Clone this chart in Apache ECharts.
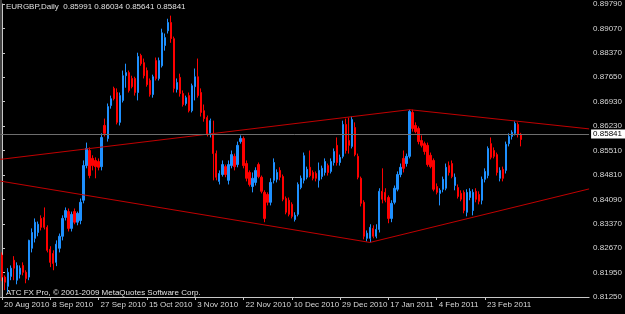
<!DOCTYPE html>
<html>
<head>
<meta charset="utf-8">
<script src="https://cdn.jsdelivr.net/npm/echarts@6/dist/echarts.min.js"></script>
<style>
html,body{margin:0;padding:0;background:#000;}
#c{width:625px;height:314px;}
</style>
</head>
<body>
<div id="c"></div>
<script>
// ---- data ----
var symbolTitle = 'EURGBP,Daily  0.85991 0.86034 0.85641 0.85841';
var copyrightText = 'ATC FX Pro, \u00a9 2001-2009 MetaQuotes Software Corp.';
var firstDate = [2010, 7, 20];          // 20 Aug 2010, daily bars incl. Sunday
var emptySlots = 22;                    // chart shift on the right
var yTickLabels = ['0.81250','0.81950','0.82670','0.83370','0.84090','0.84810','0.85510','0.86230','0.86930','0.87650','0.88370','0.89070','0.89790'];
var yMin = 0.8125, yMax = 0.8979;

var barOpen = [0.8247,0.8183,0.8156,0.8185,0.8232,0.8174,0.8191,0.8217,0.8197,0.8183,
0.8267,0.8296,0.8313,0.8354,0.8357,0.8328,0.8264,0.8252,0.8226,0.8267,
0.8302,0.8357,0.8374,0.8325,0.8374,0.8343,0.8348,0.8407,0.8508,0.8552,
0.8529,0.8523,0.8520,0.8505,0.8625,0.8587,0.8683,0.8733,0.8721,0.8634,
0.8698,0.8770,0.8779,0.8762,0.8762,0.8721,0.8829,0.8808,0.8785,0.8756,
0.8715,0.8814,0.8762,0.8799,0.8858,0.8901,0.8925,0.8878,0.8730,0.8765,
0.8718,0.8689,0.8712,0.8668,0.8738,0.8767,0.8721,0.8668,0.8648,0.8599,
0.8602,0.8543,0.8462,0.8482,0.8505,0.8465,0.8508,0.8535,0.8511,0.8578,
0.8587,0.8514,0.8488,0.8447,0.8459,0.8511,0.8474,0.8430,0.8424,0.8401,
0.8465,0.8468,0.8494,0.8476,0.8412,0.8407,0.8395,0.8351,0.8366,0.8444,
0.8465,0.8474,0.8503,0.8488,0.8485,0.8465,0.8476,0.8488,0.8508,0.8491,
0.8517,0.8567,0.8517,0.8535,0.8628,0.8581,0.8564,0.8619,0.8535,0.8471,
0.8401,0.8296,0.8296,0.8325,0.8302,0.8322,0.8433,0.8430,0.8415,0.8354,
0.8401,0.8439,0.8482,0.8529,0.8514,0.8535,0.8663,0.8625,0.8616,0.8581,
0.8572,0.8567,0.8538,0.8523,0.8447,0.8427,0.8439,0.8442,0.8508,0.8514,
0.8450,0.8444,0.8427,0.8430,0.8372,0.8415,0.8377,0.8433,0.8424,0.8407,
0.8468,0.8479,0.8572,0.8552,0.8540,0.8471,0.8497,0.8494,0.8572,0.8593,
0.8602,0.8628,0.85991];
var barHigh = [0.8255,0.8188,0.8209,0.8217,0.8244,0.8226,0.8217,0.8226,0.8203,0.8292,
0.8325,0.8354,0.8345,0.8363,0.8386,0.8334,0.8273,0.8261,0.8290,0.8310,
0.8363,0.8386,0.8383,0.8374,0.8383,0.8374,0.8412,0.8523,0.8575,0.8561,
0.8538,0.8532,0.8529,0.8602,0.8645,0.8689,0.8712,0.8738,0.8733,0.8721,
0.8785,0.8805,0.8785,0.8770,0.8767,0.8837,0.8834,0.8820,0.8794,0.8762,
0.8773,0.8823,0.8823,0.8907,0.8893,0.8936,0.8945,0.8884,0.8762,0.8776,
0.8727,0.8712,0.8721,0.8747,0.8791,0.8820,0.8733,0.8686,0.8654,0.8645,
0.8639,0.8552,0.8494,0.8523,0.8511,0.8523,0.8552,0.8543,0.8578,0.8596,
0.8593,0.8523,0.8494,0.8488,0.8503,0.8517,0.8479,0.8436,0.8430,0.8471,
0.8529,0.8497,0.8503,0.8482,0.8418,0.8415,0.8401,0.8372,0.8459,0.8479,
0.8546,0.8505,0.8552,0.8494,0.8491,0.8517,0.8508,0.8529,0.8514,0.8529,
0.8558,0.8590,0.8540,0.8639,0.8645,0.8648,0.8651,0.8634,0.8543,0.8476,
0.8407,0.8319,0.8337,0.8334,0.8337,0.8442,0.8500,0.8442,0.8421,0.8407,
0.8450,0.8491,0.8514,0.8552,0.8543,0.8671,0.8671,0.8634,0.8622,0.8596,
0.8578,0.8575,0.8546,0.8529,0.8456,0.8442,0.8476,0.8514,0.8520,0.8523,
0.8485,0.8453,0.8436,0.8436,0.8439,0.8442,0.8439,0.8442,0.8433,0.8476,
0.8500,0.8564,0.8590,0.8561,0.8546,0.8503,0.8505,0.8578,0.8602,0.8611,
0.8637,0.8634,0.86034];
var barLow = [0.8171,0.8145,0.8139,0.8174,0.8174,0.8162,0.8179,0.8188,0.8165,0.8174,
0.8255,0.8284,0.8302,0.8319,0.8322,0.8255,0.8212,0.8203,0.8215,0.8255,
0.8290,0.8348,0.8316,0.8316,0.8337,0.8334,0.8337,0.8398,0.8500,0.8471,
0.8494,0.8471,0.8494,0.8494,0.8593,0.8578,0.8674,0.8698,0.8628,0.8625,
0.8692,0.8735,0.8721,0.8733,0.8712,0.8698,0.8799,0.8762,0.8738,0.8709,
0.8706,0.8756,0.8756,0.8794,0.8843,0.8893,0.8866,0.8721,0.8721,0.8709,
0.8680,0.8683,0.8663,0.8663,0.8698,0.8706,0.8651,0.8636,0.8593,0.8590,
0.8465,0.8465,0.8453,0.8476,0.8474,0.8453,0.8500,0.8494,0.8503,0.8572,
0.8500,0.8462,0.8447,0.8430,0.8450,0.8471,0.8427,0.8343,0.8392,0.8392,
0.8456,0.8459,0.8465,0.8404,0.8366,0.8360,0.8354,0.8345,0.8360,0.8439,
0.8456,0.8468,0.8474,0.8465,0.8462,0.8444,0.8468,0.8479,0.8479,0.8485,
0.8508,0.8508,0.8508,0.8529,0.8543,0.8543,0.8558,0.8535,0.8468,0.8389,
0.8293,0.8287,0.8284,0.8296,0.8296,0.8313,0.8398,0.8401,0.8340,0.8343,
0.8395,0.8433,0.8474,0.8488,0.8505,0.8529,0.8607,0.8602,0.8570,0.8561,
0.8540,0.8505,0.8500,0.8433,0.8424,0.8392,0.8430,0.8436,0.8479,0.8471,
0.8436,0.8412,0.8404,0.8369,0.8360,0.8407,0.8363,0.8401,0.8395,0.8395,
0.8459,0.8471,0.8526,0.8529,0.8479,0.8462,0.8462,0.8485,0.8564,0.8584,
0.8596,0.8590,0.85641];
var barClose = [0.8183,0.8168,0.8197,0.8209,0.8209,0.8217,0.8209,0.8197,0.8179,0.8290,
0.8313,0.8343,0.8337,0.8328,0.8328,0.8261,0.8226,0.8223,0.8279,0.8302,
0.8354,0.8377,0.8325,0.8366,0.8343,0.8369,0.8401,0.8508,0.8558,0.8479,
0.8508,0.8505,0.8503,0.8590,0.8602,0.8680,0.8703,0.8703,0.8634,0.8712,
0.8770,0.8779,0.8727,0.8738,0.8721,0.8826,0.8805,0.8770,0.8744,0.8715,
0.8767,0.8762,0.8814,0.8895,0.8881,0.8925,0.8878,0.8733,0.8750,0.8718,
0.8686,0.8706,0.8668,0.8741,0.8767,0.8712,0.8663,0.8645,0.8599,0.8639,
0.8543,0.8474,0.8485,0.8511,0.8482,0.8511,0.8540,0.8505,0.8567,0.8587,
0.8508,0.8471,0.8453,0.8471,0.8494,0.8476,0.8433,0.8354,0.8401,0.8459,
0.8517,0.8488,0.8474,0.8410,0.8372,0.8366,0.8360,0.8363,0.8453,0.8471,
0.8537,0.8497,0.8479,0.8471,0.8471,0.8494,0.8500,0.8520,0.8488,0.8520,
0.8549,0.8517,0.8532,0.8628,0.8552,0.8567,0.8642,0.8540,0.8474,0.8398,
0.8302,0.8311,0.8328,0.8302,0.8322,0.8433,0.8410,0.8407,0.8354,0.8398,
0.8442,0.8482,0.8503,0.8500,0.8535,0.8666,0.8616,0.8607,0.8578,0.8567,
0.8549,0.8511,0.8505,0.8439,0.8430,0.8436,0.8468,0.8503,0.8488,0.8476,
0.8474,0.8418,0.8410,0.8377,0.8430,0.8433,0.8430,0.8410,0.8404,0.8468,
0.8491,0.8558,0.8532,0.8535,0.8488,0.8494,0.8471,0.8570,0.8593,0.8605,
0.8631,0.8599,0.85841];

// trendlines as [bar position, price] anchors
var upperTrend = [[-0.66, 0.8526], [135, 0.8671], [194.5, 0.8615]];
var lowerTrend = [[-0.66, 0.8463], [121.9, 0.8284], [194.5, 0.8440]];

// ---- build ----
var monthNames = ['Jan','Feb','Mar','Apr','May','Jun','Jul','Aug','Sep','Oct','Nov','Dec'];
var categories = [];
var d = new Date(firstDate[0], firstDate[1], firstDate[2]);
for (var i = 0; i < barClose.length; i++) {
  categories.push(d.getDate() + ' ' + monthNames[d.getMonth()] + ' ' + d.getFullYear());
  d.setDate(d.getDate() + 1);
  if (d.getDay() === 6) d.setDate(d.getDate() + 1); // no Saturday bars
}
for (var k = 0; k < emptySlots; k++) categories.push('');
var candles = barClose.map(function (c, i) { return [barOpen[i], c, barLow[i], barHigh[i]]; });
var lastClose = barClose[barClose.length - 1];
var yStep = (yMax - yMin) / (yTickLabels.length - 1);
var yTicks = yTickLabels.map(function (_, i) { return yMin + i * yStep; });

var FONT = "'Liberation Sans Narrow','Liberation Sans',Arial,sans-serif";
var AX = '#c8c8c8';
var chart = echarts.init(document.getElementById('c'), null, {renderer: 'canvas'});
var showIdx = function (idx, val) { return idx % 16 === 0 && val !== ''; };
chart.setOption({
  backgroundColor: '#000',
  animation: false,
  grid: {left: 0.5, right: 31.7, top: 3.3, bottom: 17, containLabel: false},
  xAxis: [{
    type: 'category', data: categories, boundaryGap: true,
    axisLine: {lineStyle: {color: AX, width: 1}},
    axisTick: {show: true, interval: showIdx, alignWithLabel: true, length: 3, lineStyle: {color: AX}},
    axisLabel: {interval: showIdx, align: 'left', padding: [0,0,0,2], margin: 4, color: '#d8d8d8', fontFamily: FONT, fontSize: 8},
    splitLine: {show: false}
  }, {
    type: 'value', min: -0.5, max: categories.length - 0.5, show: false
  }],
  yAxis: {
    type: 'value', position: 'right', min: yMin, max: yMax, scale: true,
    axisLine: {show: true, lineStyle: {color: AX, width: 1}},
    axisTick: {show: true, length: 3, customValues: yTicks, lineStyle: {color: AX}},
    axisLabel: {customValues: yTicks, margin: 4, color: '#d8d8d8', fontFamily: FONT, fontSize: 8,
      formatter: function (v) { return yTickLabels[Math.round((v - yMin) / yStep)]; }},
    splitLine: {show: false}
  },
  series: [{
    type: 'candlestick', data: candles, barWidth: 1.8,
    itemStyle: {color: '#1e90ff', color0: '#ff0000', borderColor: '#1e90ff', borderColor0: '#ff0000', borderWidth: 1},
    markLine: {
      silent: true, symbol: ['none', 'none'],
      lineStyle: {color: '#6e6e6e', width: 1, type: 'solid'},
      label: {show: true, position: 'end', distance: 2, formatter: lastClose.toFixed(5),
        backgroundColor: '#ffffff', color: '#000', fontFamily: FONT, fontSize: 8, padding: [1, 3, 0, 2]},
      data: [{yAxis: lastClose}]
    }
  }, {
    type: 'line', xAxisIndex: 1, data: upperTrend, symbol: 'none', clip: true,
    lineStyle: {color: '#c00000', width: 1}
  }, {
    type: 'line', xAxisIndex: 1, data: lowerTrend, symbol: 'none', clip: true,
    lineStyle: {color: '#c00000', width: 1}
  }],
  graphic: [
    {type: 'line', shape: {x1: 1, y1: 0, x2: 1, y2: 297}, style: {stroke: '#808080', lineWidth: 1}},
    {type: 'text', left: 6, top: 3, style: {text: symbolTitle, fill: '#e0e0e0', font: '8px ' + FONT}},
    {type: 'text', left: 6, top: 289, style: {text: copyrightText, fill: '#e0e0e0', font: '8px ' + FONT}}
  ]
});
</script>
</body>
</html>
